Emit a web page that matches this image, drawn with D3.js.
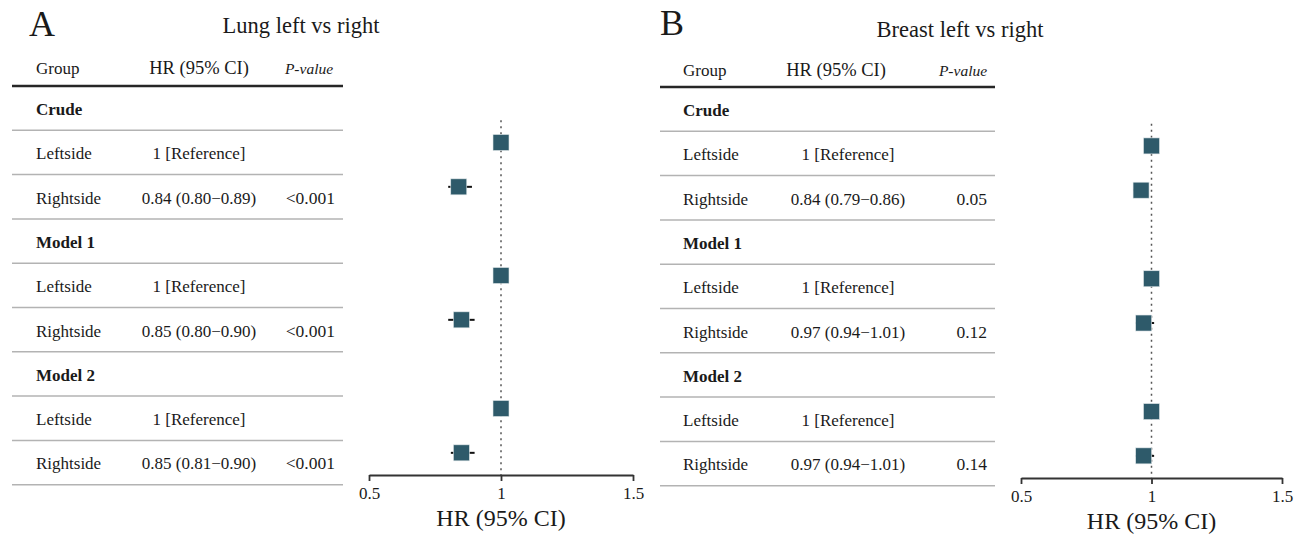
<!DOCTYPE html>
<html>
<head>
<meta charset="utf-8">
<script src="https://cdn.jsdelivr.net/npm/d3@7"></script>
<style>
  body { margin: 0; background: #fff; }
  text { font-family: "Liberation Serif", "Times New Roman", serif; fill: #1a1a1a; }
</style>
</head>
<body>
<svg id="chart" width="1304" height="535"></svg>
<script>
// rows of both tables (same layout in each panel)
var groups = ["Crude", "Leftside", "Rightside", "Model 1", "Leftside", "Rightside", "Model 2", "Leftside", "Rightside"];
var isGroupHead = [true, false, false, true, false, false, true, false, false];

// Lung panel
var lungHRText = ["", "1 [Reference]", "0.84 (0.80\u22120.89)", "", "1 [Reference]", "0.85 (0.80\u22120.90)", "", "1 [Reference]", "0.85 (0.81\u22120.90)"];
var lungP = ["", "", "<0.001", "", "", "<0.001", "", "", "<0.001"];
var lungHR = [null, 1, 0.84, null, 1, 0.85, null, 1, 0.85];
var lungLo = [null, 1, 0.80, null, 1, 0.80, null, 1, 0.81];
var lungHi = [null, 1, 0.89, null, 1, 0.90, null, 1, 0.90];

// Breast panel (points as drawn in the plot)
var breastHRText = ["", "1 [Reference]", "0.84 (0.79\u22120.86)", "", "1 [Reference]", "0.97 (0.94\u22121.01)", "", "1 [Reference]", "0.97 (0.94\u22121.01)"];
var breastP = ["", "", "0.05", "", "", "0.12", "", "", "0.14"];
var breastHR = [null, 1, 0.96, null, 1, 0.97, null, 1, 0.97];
var breastLo = [null, 1, 0.93, null, 1, 0.94, null, 1, 0.94];
var breastHi = [null, 1, 0.99, null, 1, 1.01, null, 1, 1.01];

var xTicks = [0.5, 1, 1.5];
var headers = ["Group", "HR (95% CI)", "P-value"];

var svg = d3.select("#chart");
var boxColor = "#2e5a6a";

function drawPanel(p) {
  var g = svg.append("g");

  // panel letter and title
  g.append("text").attr("x", p.letterX).attr("y", p.letterY)
    .style("font-size", "36px").text(p.letter);
  g.append("text").attr("x", p.titleX).attr("y", p.titleY)
    .attr("text-anchor", "middle").style("font-size", "22.5px").text(p.title);

  // table header
  g.append("text").attr("x", p.groupX).attr("y", p.headY)
    .style("font-size", "17px").text(headers[0]);
  g.append("text").attr("x", p.hrHeadX).attr("y", p.headY)
    .attr("text-anchor", "middle").style("font-size", "18.5px").text(headers[1]);
  g.append("text").attr("x", p.pHeadX).attr("y", p.headY)
    .attr("text-anchor", "middle").style("font-size", "15.5px")
    .style("font-style", "italic").text(headers[2]);

  g.append("line").attr("x1", p.tableX0).attr("x2", p.tableX1)
    .attr("y1", p.lineTop).attr("y2", p.lineTop)
    .attr("stroke", "#262626").attr("stroke-width", 2.5);

  var rowH = p.rowH;
  var rows = g.selectAll(".row").data(groups).enter().append("g");

  rows.append("line")
    .attr("x1", p.tableX0).attr("x2", p.tableX1)
    .attr("y1", function(d, i) { return p.lineTop + rowH * (i + 1); })
    .attr("y2", function(d, i) { return p.lineTop + rowH * (i + 1); })
    .attr("stroke", "#b3b3b3").attr("stroke-width", 1.5);

  rows.append("text")
    .attr("x", p.groupX)
    .attr("y", function(d, i) { return p.lineTop + rowH * i + 29; })
    .style("font-size", "17px")
    .style("font-weight", function(d, i) { return isGroupHead[i] ? "bold" : "normal"; })
    .text(function(d) { return d; });

  rows.append("text")
    .attr("x", p.hrX)
    .attr("y", function(d, i) { return p.lineTop + rowH * i + 29; })
    .attr("text-anchor", "middle").style("font-size", "17px")
    .text(function(d, i) { return p.hrText[i]; });

  rows.append("text")
    .attr("x", p.pX)
    .attr("y", function(d, i) { return p.lineTop + rowH * i + 29; })
    .attr("text-anchor", "end").style("font-size", "17.5px")
    .text(function(d, i) { return p.pText[i]; });

  // forest plot
  var x = d3.scaleLinear().domain([0.5, 1.5]).range(p.plotX);
  var y = d3.scaleBand().domain(d3.range(groups.length)).range(p.plotY);

  g.append("line")
    .attr("x1", x(1)).attr("x2", x(1))
    .attr("y1", y(1)).attr("y2", p.plotY[1])
    .attr("stroke", "#555").attr("stroke-width", 1.5)
    .attr("stroke-dasharray", "2,4");

  var idx = d3.range(groups.length).filter(function(i) { return p.hr[i] != null; });

  g.selectAll(".ci").data(idx).enter().append("line")
    .attr("x1", function(i) { return x(p.lo[i]); })
    .attr("x2", function(i) { return x(p.hi[i]); })
    .attr("y1", function(i) { return y(i) + y.bandwidth() / 2; })
    .attr("y2", function(i) { return y(i) + y.bandwidth() / 2; })
    .attr("stroke", "#111").attr("stroke-width", 2);

  var s = 16;
  g.selectAll(".box").data(idx).enter().append("rect")
    .attr("x", function(i) { return x(p.hr[i]) - s / 2; })
    .attr("y", function(i) { return y(i) + y.bandwidth() / 2 - s / 2; })
    .attr("width", s).attr("height", s)
    .attr("fill", boxColor).attr("stroke", "#dfe6e8").attr("stroke-width", 0.6);

  var axis = g.append("g")
    .attr("transform", "translate(0," + p.plotY[1] + ")")
    .call(d3.axisBottom(x).tickValues(xTicks).tickSize(6).tickSizeOuter(0)
      .tickFormat(function(d) { return String(d); }));
  axis.select(".domain").attr("stroke", "#333").attr("stroke-width", 1.8);
  axis.selectAll(".tick line").attr("stroke", "#333").attr("stroke-width", 1.8);
  axis.selectAll(".tick text")
    .style("font-family", "Liberation Serif, serif").style("font-size", "17px")
    .attr("fill", "#1a1a1a").attr("dy", "0.9em");

  g.append("text").attr("x", x(1)).attr("y", p.plotY[1] + 51)
    .attr("text-anchor", "middle").style("font-size", "24px").text("HR (95% CI)");
}

drawPanel({
  letter: "A", letterX: 29, letterY: 36,
  title: "Lung left vs right", titleX: 301, titleY: 33,
  headY: 74, groupX: 36, hrHeadX: 199, pHeadX: 309,
  tableX0: 12, tableX1: 343, lineTop: 86, rowH: 44.3,
  hrX: 199, pX: 335,
  hrText: lungHRText, pText: lungP,
  hr: lungHR, lo: lungLo, hi: lungHi,
  plotX: [369, 633], plotY: [76, 475]
});

drawPanel({
  letter: "B", letterX: 660, letterY: 35,
  title: "Breast left vs right", titleX: 960, titleY: 37,
  headY: 76, groupX: 683, hrHeadX: 836, pHeadX: 963,
  tableX0: 660, tableX1: 995, lineTop: 87, rowH: 44.3,
  hrX: 848, pX: 987,
  hrText: breastHRText, pText: breastP,
  hr: breastHR, lo: breastLo, hi: breastHi,
  plotX: [1021, 1282], plotY: [79.5, 478]
});
</script>
</body>
</html>
